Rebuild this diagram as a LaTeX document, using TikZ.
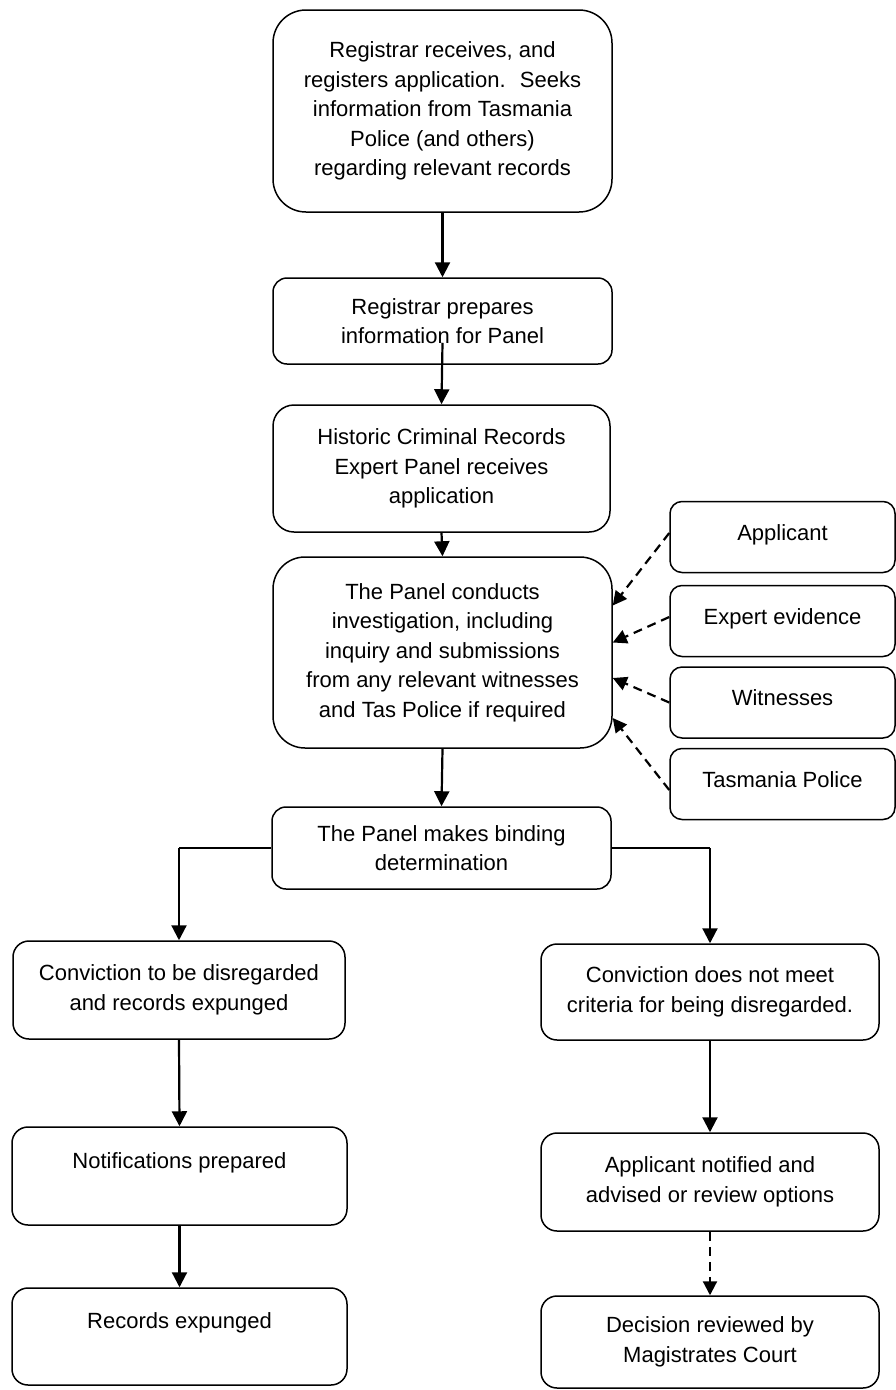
\documentclass[tikz,border=0pt]{standalone}
\usepackage{fontspec}
\setmainfont{Liberation Sans}
\usetikzlibrary{arrows.meta,calc}
\begin{document}
\begin{tikzpicture}[x=1pt,y=-1pt,
  box/.style={draw=black, line width=1.5pt, rectangle, align=center,
    font=\fontsize{22}{29.5}\selectfont, inner sep=4pt},
  side/.style={box, minimum width=225pt, minimum height=71pt, rounded corners=12pt,
    text height=16pt, text depth=10pt},
  topped/.style={text height=16pt, text depth=32pt},
  arr/.style={line width=2.2pt, -{Triangle[length=15pt,width=15pt]}},
  darr/.style={line width=2.2pt, dash pattern=on 9pt off 6pt, -{Triangle[length=14pt,width=14pt]}},
  link/.style={line width=1.5pt}
]
\useasboundingbox (0,0) rectangle (896,1390);

\node[box, minimum width=339pt, minimum height=202pt, rounded corners=33pt] (b1) at (442.5,111)
  {Registrar receives, and\\registers application.~ Seeks\\information from Tasmania\\Police (and others)\\regarding relevant records};
\node[box, minimum width=339pt, minimum height=86pt, rounded corners=14pt] (b2) at (442.5,321)
  {Registrar prepares\\information for Panel};
\node[box, minimum width=337pt, minimum height=127pt, rounded corners=21pt] (b3) at (441.5,468.5)
  {Historic Criminal Records\\Expert Panel receives\\application};
\node[box, minimum width=339pt, minimum height=191pt, rounded corners=32pt] (b4) at (442.5,652.5)
  {The Panel conducts\\investigation, including\\inquiry and submissions\\from any relevant witnesses\\and Tas Police if required};
\node[box, minimum width=339pt, minimum height=82pt, rounded corners=14pt] (b5) at (441.5,848)
  {The Panel makes binding\\determination};

\node[side] (app) at (782.5,537) {Applicant};
\node[side] (exp) at (782.5,621) {Expert evidence};
\node[side] (wit) at (782.5,702.5) {Witnesses};
\node[side] (tas) at (782.5,784) {Tasmania Police};

\node[box, minimum width=332pt, minimum height=98pt, rounded corners=16pt] (l1) at (179,990)
  {Conviction to be disregarded\\and records expunged};
\node[box, minimum width=335pt, minimum height=98pt, rounded corners=16pt, topped] (l2) at (179.5,1176)
  {Notifications prepared};
\node[box, minimum width=335pt, minimum height=97pt, rounded corners=16pt, topped] (l3) at (179.5,1336.5)
  {Records expunged};

\node[box, minimum width=338pt, minimum height=96pt, rounded corners=16pt] (r1) at (710,992)
  {Conviction does not meet\\criteria for being disregarded.};
\node[box, minimum width=338pt, minimum height=98pt, rounded corners=16pt] (r2) at (710,1182)
  {Applicant notified and\\advised or review options};
\node[box, minimum width=338pt, minimum height=92pt, rounded corners=16pt] (r3) at (710,1342)
  {Decision reviewed by\\Magistrates Court};

% main flow
\draw[arr] (b1.south) -- (b2.north);
\draw[arr] ($(b2.south)+(0,-22)$) -- (b3.north);
\draw[arr] (b3.south) -- (b4.north);
\draw[arr] (b4.south) -- (b5.north);

% inputs
\draw[darr] ($(app.west)+(0,-4)$) -- ($(b4.east)+(0,-47)$);
\draw[darr] ($(exp.west)+(0,-4)$) -- ($(b4.east)+(0,-10)$);
\draw[darr] (wit.west) -- ($(b4.east)+(0,25.5)$);
\draw[darr] ($(tas.west)+(0,6)$) -- ($(b4.east)+(0,65.5)$);

% branches
\coordinate (lc) at (l1.north |- b5.west);
\coordinate (rc) at (r1.north |- b5.east);
\draw[link] (b5.west) -- (lc);
\draw[arr] (lc) -- (l1.north);
\draw[link] (b5.east) -- (rc);
\draw[arr] (rc) -- (r1.north);

\draw[arr] (l1.south) -- (l2.north);
\draw[arr] (l2.south) -- (l3.north);
\draw[arr] (r1.south) -- (r2.north);
\draw[darr] (r2.south) -- (r3.north);
\end{tikzpicture}
\end{document}
